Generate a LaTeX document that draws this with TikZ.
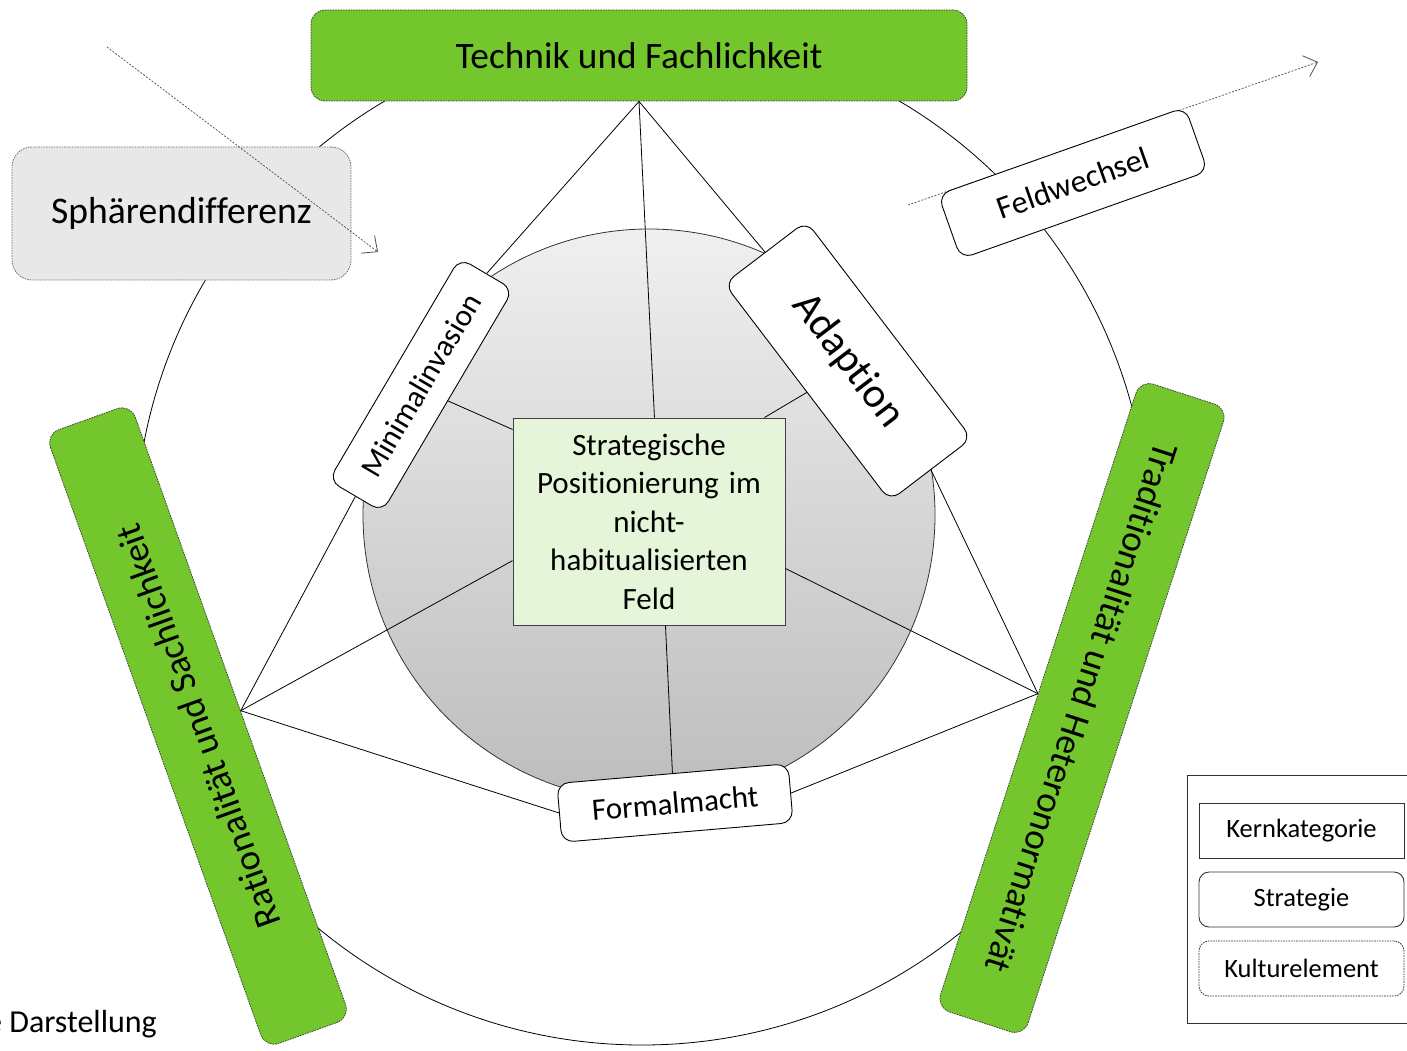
\documentclass[tikz,border=0pt]{standalone}
\usepackage{fontspec}
\setmainfont{Carlito}[Ligatures=NoCommon]
\usetikzlibrary{arrows.meta,calc}
\definecolor{kgreen}{RGB}{115,199,45}
\definecolor{cgreen}{RGB}{229,245,217}
\definecolor{sphgray}{RGB}{232,232,232}
\begin{document}
\begin{tikzpicture}[x=1pt,y=-1pt,
  kultur/.style={draw=black!75, line width=0.8pt, dash pattern=on 1.6pt off 1pt, rounded corners=14pt, fill=kgreen, inner sep=0pt},
  strat/.style={draw=black, line width=0.9pt, rounded corners=12pt, fill=white, inner sep=0pt},
  kern/.style={draw=black!75, line width=0.9pt, fill=cgreen, inner sep=0pt},
  conn/.style={line width=0.8pt, draw=black},
  dasharrow/.style={draw=black!70, line width=0.7pt, dash pattern=on 2pt off 1.5pt, -{Straight Barb[length=12pt,width=22pt,line width=0.8pt]}},
  fs/.style={font=\fontsize{#1}{#1}\selectfont}]
\useasboundingbox (0,0) rectangle (1407,1051);

% outer circle
\draw[line width=0.8pt] (642,538) circle[radius=507];

% inner sphere
\shade[top color=black!6, bottom color=black!26, draw=black!80, line width=0.8pt] (649,515) circle[radius=286];

% category boxes
\node[kultur, minimum width=656pt, minimum height=91pt, fs=37.3] (title) at (639,55.5) {Technik und Fachlichkeit};
\node[kultur, minimum width=652pt, minimum height=90pt, rotate=109.7, fs=37] (left) at (198,726) {Rationalität und Sachlichkeit};
\node[kultur, minimum width=660pt, minimum height=92pt, rotate=-108, fs=37] (right) at (1082,708) {Traditionalität und Heteronormativät};

\coordinate (T) at (title.south);
\coordinate (L) at (left.south);
\coordinate (R) at (right.south);

% centre
\node[kern, minimum width=272pt, minimum height=207pt, text width=262pt, align=center,
      font=\fontsize{31}{38.5}\selectfont] (center) at (649,521.5)
  {Strategische\\Positionierung im\\nicht-\\habitualisierten\\Feld};

% strategies
\node[strat, minimum width=258pt, minimum height=62pt, rotate=59.5, fs=31] (mini) at (421,385) {Minimalinvasion};
\node[strat, minimum width=273pt, minimum height=103pt, rotate=-52.7, fs=42] (adapt) at (848,361) {Adaption};
\node[strat, minimum width=232pt, minimum height=59pt, rotate=4.9, fs=31] (formal) at (675,803) {Formalmacht};

% connectors
\draw[conn] (T) -- (mini.east);
\draw[conn] (L) -- (mini.west);
\draw[conn] (T) -- (adapt.west);
\draw[conn] (R) -- (adapt.east);
\draw[conn] (L) -- (formal.west);
\draw[conn] (R) -- (formal.east);
\draw[conn] (T) -- (center.87);
\draw[conn] (L) -- (center.196);
\draw[conn] (R) -- (center.341);
\draw[conn] (mini.south) -- (center.146.7);
\draw[conn] (adapt.south) -- (center.42);
\draw[conn] (formal.north) -- (center.279);

% Feldwechsel
\coordinate (fw1) at (908,205);
\coordinate (fw2) at (1318,62);
\draw[dasharrow] (fw1) -- (fw2);
\node[strat, minimum width=262pt, minimum height=68pt, rotate=19.5, fs=32] (feld) at (1073,183) {Feldwechsel};

% Sphaerendifferenz
\node[draw=black!55, line width=0.8pt, dash pattern=on 1.6pt off 1pt, rounded corners=20pt, fill=sphgray,
      minimum width=339pt, minimum height=133pt, fs=37.6] (sph) at (181.5,213.5) {Sphärendifferenz};
\coordinate (sa1) at (107,47);
\coordinate (sa2) at (378,252);
\draw[dasharrow] (sa1) -- (sa2);

% legend
\draw[draw=black!80, line width=0.9pt] (1187,775) rectangle (1420,1023);
\node[draw=black!80, line width=0.9pt, minimum width=205pt, minimum height=55pt, inner sep=0pt, fs=26.5] (lk) at (1301.5,830.5) {Kernkategorie};
\node[strat, draw=black!80, minimum width=205pt, minimum height=55pt, rounded corners=10pt, fs=26.5] (ls) at (1301.5,899.5) {Strategie};
\node[draw=black!80, line width=0.8pt, dash pattern=on 1.6pt off 1pt, rounded corners=10pt, minimum width=205pt, minimum height=55pt, inner sep=0pt, fs=26.5] (lc) at (1301.5,968.5) {Kulturelement};

% source
\node[anchor=base east, inner sep=0pt, fs=32] (src) at (157,1032) {Eigene Darstellung};
\end{tikzpicture}
\end{document}
